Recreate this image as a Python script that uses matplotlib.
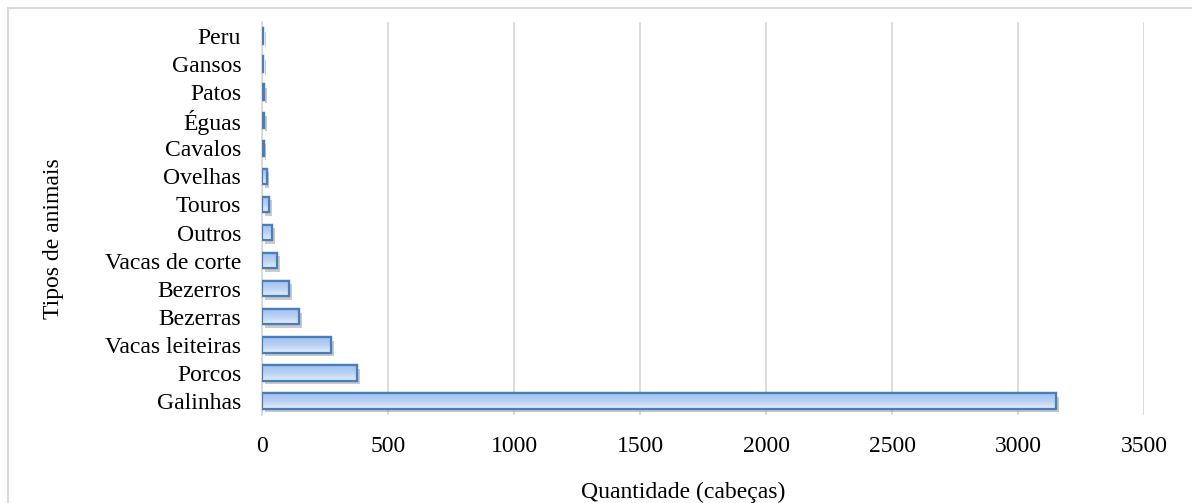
import matplotlib.pyplot as plt
import matplotlib.patheffects as pe
from matplotlib.patches import Rectangle
from matplotlib.colors import LinearSegmentedColormap
import numpy as np

plt.rcParams['font.family'] = ['Liberation Serif', 'DejaVu Serif']

animais = ["Galinhas", "Porcos", "Vacas leiteiras", "Bezerras", "Bezerros",
           "Vacas de corte", "Outros", "Touros", "Ovelhas", "Cavalos",
           "Éguas", "Patos", "Gansos", "Peru"]
quantidade = [3150, 377, 274, 147, 107, 60, 41, 27, 18, 6, 7, 7, 5, 4]
ticks_x = [0, 500, 1000, 1500, 2000, 2500, 3000, 3500]

fig = plt.figure(figsize=(11.92, 5.03), dpi=100)
ax = fig.add_axes([262/1192, 1-415/503, (1144-262)/1192, (415-22)/503])

# light frame around the whole chart
fig.patches.append(Rectangle((8/1192, -0.05), 1.2, 1-8/503+0.05,
                             transform=fig.transFigure, fill=False,
                             edgecolor='#d9d9d9', linewidth=1.5, zorder=0))

y = np.arange(len(animais))
bars = ax.barh(y, quantidade, height=0.55, color='#c5d9f6',
               edgecolor='#4a7ebb', linewidth=1.6, zorder=3)

# vertical gradient inside each bar, plus a soft shadow
grad = np.linspace(0, 1, 64).reshape(-1, 1)
cmap = LinearSegmentedColormap.from_list('barra', ['#e3eefc', '#b9d1f4', '#9fc0ef'])
for b in bars:
    b.set_path_effects([pe.SimplePatchShadow(offset=(2, -2.5), shadow_rgbFace='#7f7f7f', alpha=0.4),
                        pe.Normal()])
    x0, y0, w, h = b.get_x(), b.get_y(), b.get_width(), b.get_height()
    im = ax.imshow(grad, extent=(x0, x0 + w, y0 + h, y0), aspect='auto',
                   cmap=cmap, zorder=3.5, origin='upper')
    im.set_clip_path(b)
    edge = Rectangle((x0, y0), w, h, fill=False, edgecolor='#4a7ebb',
                     linewidth=1.6, zorder=4)
    ax.add_patch(edge)

ax.set_xlim(0, 3500)
ax.set_ylim(-0.5, len(animais) - 0.5)
ax.set_xticks(ticks_x)
ax.set_yticks(y)
ax.set_yticklabels(animais)
ax.tick_params(axis='both', length=0, labelsize=17, colors='black')
ax.tick_params(axis='y', pad=15)
ax.tick_params(axis='x', pad=15)
ax.grid(axis='x', color='#d9d9d9', linewidth=1.3, zorder=0)
ax.set_axisbelow(True)
for s in ['top', 'right', 'bottom']:
    ax.spines[s].set_visible(False)
ax.spines['left'].set_color('#d9d9d9')
ax.spines['left'].set_linewidth(1.3)

ax.set_xlabel('Quantidade (cabeças)', fontsize=17)
ax.set_ylabel('Tipos de animais', fontsize=17)
ax.xaxis.set_label_coords(0.477, -0.196)
ax.yaxis.set_label_coords(-0.236, 0.45)
ax.xaxis.label.set_va('center')
ax.yaxis.label.set_va('center')

plt.savefig('out.png', dpi=100)
